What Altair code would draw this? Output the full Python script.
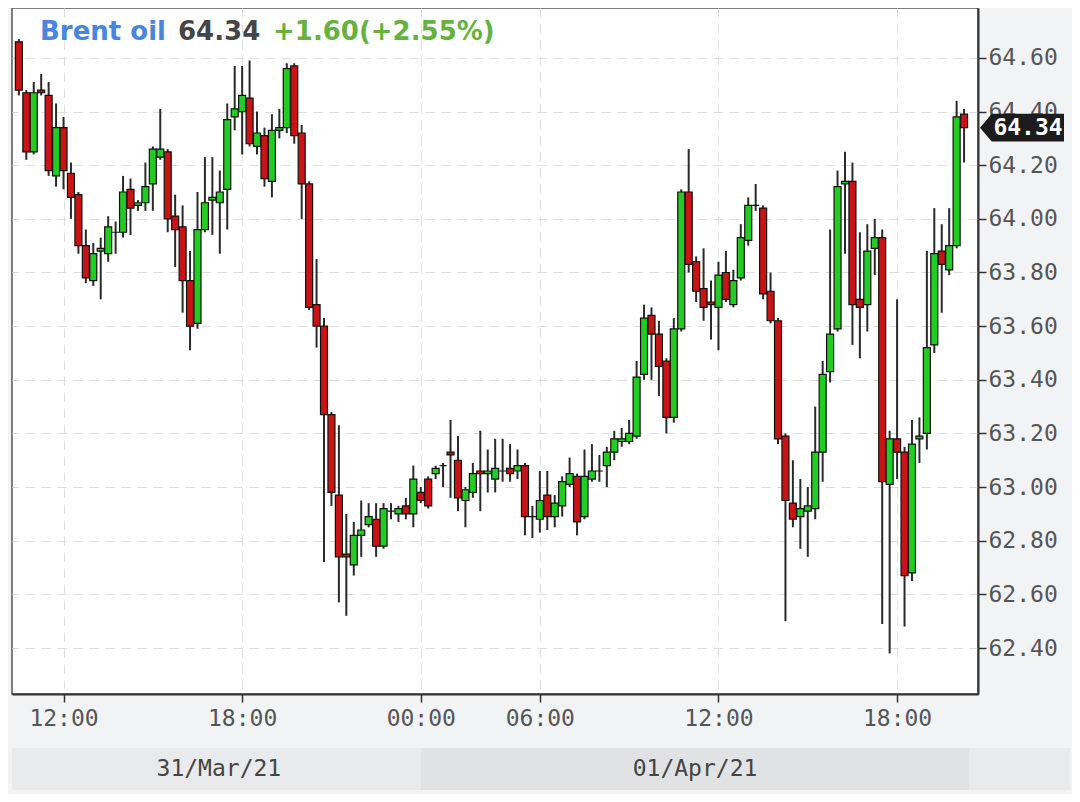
import altair as alt
import pandas as pd

# ---------------- data (15-minute candles, index-based x) ----------------
opens = [64.66, 64.47, 64.25, 64.48, 64.46, 64.16, 64.34, 64.17, 64.09, 63.90,
         63.77, 63.88, 63.87, 63.95, 63.95, 64.11, 64.05, 64.06, 64.13, 64.23,
         64.25, 64.01, 63.97, 63.77, 63.61, 63.96, 64.07, 64.06, 64.11, 64.38,
         64.40, 64.45, 64.27, 64.31, 64.14, 64.33, 64.34, 64.57, 64.32, 64.13,
         63.68, 63.60, 63.27, 62.97, 62.75, 62.71, 62.82, 62.86, 62.88, 62.78,
         62.91, 62.90, 62.93, 62.90, 62.98, 63.03, 63.05, 63.08, 63.13, 63.10,
         62.95, 62.98, 63.06, 63.05, 63.03, 63.06, 63.07, 63.06, 63.08, 62.89,
         62.88, 62.97, 62.89, 62.93, 63.01, 63.04, 62.89, 63.03, 63.06, 63.08,
         63.13, 63.17, 63.17, 63.19, 63.42, 63.64, 63.57, 63.47, 63.26, 63.59,
         64.10, 63.84, 63.74, 63.69, 63.67, 63.80, 63.68, 63.78, 63.92, 64.05,
         64.04, 63.73, 63.62, 63.19, 62.94, 62.89, 62.91, 62.92, 63.13, 63.43,
         63.59, 64.13, 64.14, 63.70, 63.68, 63.89, 63.93, 63.01, 63.18, 63.13,
         62.68, 63.18, 63.20, 63.53, 63.88, 63.81, 63.90, 64.39]
highs = [64.67, 64.48, 64.51, 64.54, 64.51, 64.43, 64.38, 64.21, 64.10, 63.96,
         63.91, 63.93, 64.01, 63.99, 64.16, 64.15, 64.07, 64.21, 64.27, 64.41,
         64.26, 64.09, 64.05, 63.88, 64.10, 64.23, 64.23, 64.18, 64.43, 64.57,
         64.57, 64.59, 64.40, 64.34, 64.39, 64.41, 64.58, 64.58, 64.35, 64.14,
         63.85, 63.63, 63.28, 63.23, 62.90, 62.87, 62.95, 62.94, 62.94, 62.94,
         62.94, 62.93, 62.96, 63.08, 63.00, 63.04, 63.08, 63.09, 63.25, 63.19,
         63.00, 63.09, 63.21, 63.14, 63.18, 63.18, 63.16, 63.14, 63.09, 62.93,
         63.06, 63.06, 62.97, 63.04, 63.11, 63.05, 63.14, 63.16, 63.12, 63.15,
         63.21, 63.22, 63.25, 63.47, 63.68, 63.67, 63.62, 63.48, 63.63, 64.11,
         64.26, 63.86, 63.89, 63.77, 63.84, 63.88, 63.81, 63.98, 64.08, 64.13,
         64.05, 63.80, 63.63, 63.20, 63.10, 63.03, 63.00, 63.30, 63.47, 63.96,
         64.18, 64.25, 64.21, 63.95, 63.98, 64.00, 63.96, 63.21, 63.70, 63.15,
         63.25, 63.26, 63.88, 64.04, 63.98, 64.04, 64.44, 64.41]
lows = [64.46, 64.22, 64.24, 64.46, 64.16, 64.12, 64.11, 64.00, 63.87, 63.76,
        63.75, 63.70, 63.84, 63.87, 63.93, 63.94, 64.03, 64.03, 64.03, 64.22,
        63.95, 63.82, 63.65, 63.51, 63.59, 63.95, 63.94, 63.87, 63.96, 64.33,
        64.24, 64.27, 64.24, 64.12, 64.08, 64.30, 64.32, 64.28, 64.00, 63.66,
        63.52, 62.72, 62.93, 62.57, 62.52, 62.67, 62.74, 62.85, 62.74, 62.77,
        62.88, 62.87, 62.88, 62.85, 62.94, 62.92, 63.03, 63.00, 62.96, 62.91,
        62.85, 62.96, 62.91, 62.98, 62.98, 63.02, 63.02, 63.03, 62.82, 62.81,
        62.83, 62.84, 62.85, 62.89, 63.00, 62.82, 62.88, 63.02, 63.02, 63.00,
        63.10, 63.15, 63.16, 63.18, 63.40, 63.40, 63.34, 63.20, 63.24, 63.58,
        63.80, 63.69, 63.62, 63.55, 63.51, 63.69, 63.67, 63.77, 63.90, 64.03,
        63.70, 63.61, 63.16, 62.50, 62.85, 62.77, 62.74, 62.88, 63.02, 63.39,
        63.58, 63.87, 63.53, 63.48, 63.58, 63.79, 62.49, 62.38, 63.03, 62.48,
        62.65, 63.09, 63.14, 63.50, 63.65, 63.79, 63.89, 64.21]
closes = [64.48, 64.25, 64.47, 64.47, 64.18, 64.34, 64.18, 64.08, 63.90, 63.78,
          63.87, 63.89, 63.97, 63.95, 64.10, 64.04, 64.06, 64.12, 64.26, 64.26,
          64.00, 63.96, 63.77, 63.60, 63.96, 64.06, 64.08, 64.10, 64.37, 64.41,
          64.46, 64.28, 64.32, 64.15, 64.33, 64.34, 64.56, 64.31, 64.13, 63.67,
          63.60, 63.27, 62.98, 62.74, 62.74, 62.82, 62.84, 62.89, 62.78, 62.92,
          62.91, 62.92, 62.90, 63.03, 62.95, 62.93, 63.07, 63.08, 63.12, 62.96,
          62.99, 63.05, 63.05, 63.06, 63.07, 63.06, 63.05, 63.08, 62.89, 62.89,
          62.95, 62.89, 62.94, 63.02, 63.05, 62.87, 63.04, 63.06, 63.06, 63.13,
          63.18, 63.18, 63.20, 63.41, 63.63, 63.57, 63.45, 63.26, 63.59, 64.10,
          63.83, 63.73, 63.67, 63.68, 63.79, 63.70, 63.77, 63.93, 64.05, 64.05,
          63.72, 63.62, 63.18, 62.95, 62.88, 62.92, 62.93, 63.13, 63.42, 63.57,
          64.12, 64.14, 63.68, 63.67, 63.88, 63.93, 63.02, 63.18, 63.13, 62.67,
          63.16, 63.19, 63.52, 63.87, 63.83, 63.90, 64.38, 64.34]

tick_index = [6, 30, 54, 70, 94, 118]
tick_labels = ["12:00", "18:00", "00:00", "06:00", "12:00", "18:00"]
price_ticks = [62.40, 62.60, 62.80, 63.00, 63.20, 63.40, 63.60, 63.80,
               64.00, 64.20, 64.40, 64.60]
date_labels = ["31/Mar/21", "01/Apr/21"]
date_start = [-0.25, 54.0]
date_end = [54.0, 127.7]
title_parts = ["Brent oil", "64.34", "+1.60(+2.55%)"]
last_price = [64.34]

# ---------------- frames ----------------
df = pd.DataFrame({"i": list(range(len(opens))), "open": opens, "high": highs,
                   "low": lows, "close": closes})
df["dir"] = ["up" if c > o else ("flat" if c == o else "down")
             for o, c in zip(opens, closes)]
dates = pd.DataFrame({"label": date_labels, "start": date_start, "end": date_end})
dates["mid"] = (dates["start"] + dates["end"]) / 2
last_df = pd.DataFrame({"p": last_price, "txt": [f"{v:.2f}" for v in last_price]})

W, H = 966, 686
FONT = "DejaVu Sans"
MONO = "DejaVu Sans Mono"
xscale = alt.Scale(domain=[-0.25, 128.2], nice=False, zero=False)
yscale = alt.Scale(domain=[62.2286, 64.786], nice=False, zero=False)

label_expr = " : ".join(f"datum.value == {v} ? '{l}'" for v, l in zip(tick_index, tick_labels)) + " : ''"

xaxis = alt.Axis(values=tick_index, labelExpr=label_expr, title=None, grid=True,
                 gridDash=[9, 7], gridColor="#dcdcdc", gridWidth=1,
                 tickSize=8, tickColor="#333", tickWidth=1.5,
                 domainColor="#333", domainWidth=2,
                 labelFont=MONO, labelFontSize=23, labelColor="#555",
                 labelPadding=5, labelFlush=False)
yaxis = alt.Axis(orient="right", values=price_ticks, format=".2f", title=None,
                 grid=True, gridDash=[9, 7], gridColor="#dcdcdc", gridWidth=1,
                 tickSize=8, tickColor="#333", tickWidth=1.5,
                 domainColor="#333", domainWidth=2,
                 labelFont=MONO, labelFontSize=23, labelColor="#555",
                 labelPadding=2, labelFlush=False)

base = alt.Chart(df)

wicks = base.mark_rule(color="#2a2a2a", strokeWidth=2, clip=True).encode(
    x=alt.X("i:Q", scale=xscale, axis=xaxis),
    y=alt.Y("low:Q", scale=yscale, axis=yaxis),
    y2="high:Q",
)

bodies = base.mark_bar(size=7, stroke="#111111", strokeWidth=1.2, clip=True).encode(
    x=alt.X("i:Q", scale=xscale, axis=xaxis),
    y=alt.Y("open:Q", scale=yscale, axis=yaxis),
    y2="close:Q",
    fill=alt.Fill("dir:N", scale=alt.Scale(domain=["up", "down", "flat"],
                                           range=["#22cc22", "#c81414", "#222222"]),
                  legend=None),
)

# date band strip under the axis
band_all = alt.Chart(pd.DataFrame({"k": [0]})).mark_rect(color="#e9eaeb").encode(
    x=alt.value(0), x2=alt.value(1058), y=alt.value(740), y2=alt.value(782))
band_apr = alt.Chart(dates.iloc[[1]]).mark_rect(color="#e1e2e3").encode(
    x=alt.X("start:Q", scale=xscale, axis=xaxis), x2="end:Q",
    y=alt.value(740), y2=alt.value(782))
band_text = alt.Chart(dates).mark_text(font=MONO, fontSize=23, color="#444",
                                       baseline="middle").encode(
    x=alt.X("mid:Q", scale=xscale, axis=xaxis), y=alt.value(761), text="label:N")

# title pieces
title_df = pd.DataFrame({"t": title_parts, "px": [28, 166, 261],
                         "c": ["#4a86e0", "#454545", "#66b23f"]})
title = alt.Chart(title_df).mark_text(font=FONT, fontSize=26, fontWeight="bold",
                                      align="left", baseline="alphabetic").encode(
    x=alt.X("px:Q", scale=None), y=alt.value(32), text="t:N",
    color=alt.Color("c:N", scale=None))

# last-price tag on the right axis
tag_path = "M -1 0 L -0.72 -0.333 L 1 -0.333 L 1 0.333 L -0.72 0.333 Z"
tag = alt.Chart(last_df).mark_point(shape=tag_path, size=7056, filled=True,
                                    color="#1c1c1c", opacity=1).encode(
    x=alt.value(1010), y=alt.Y("p:Q", scale=yscale, axis=yaxis))
tag_text = alt.Chart(last_df).mark_text(font=MONO, fontSize=23, fontWeight="bold",
                                        color="white", baseline="middle",
                                        align="center").encode(
    x=alt.value(1016), y=alt.Y("p:Q", scale=yscale, axis=yaxis), text="txt:N")

chart = alt.layer(band_all, band_apr, band_text, wicks, bodies, title, tag, tag_text).properties(
    width=W, height=H,
    autosize=alt.AutoSizeParams(type="none"),
    padding={"left": 4, "top": 0, "right": 94, "bottom": 100},
    background="#f2f3f5",
).configure_view(fill="white", stroke="#555", strokeWidth=1.5)

chart.save("out.html", embed_options={"renderer": "svg", "actions": False})
